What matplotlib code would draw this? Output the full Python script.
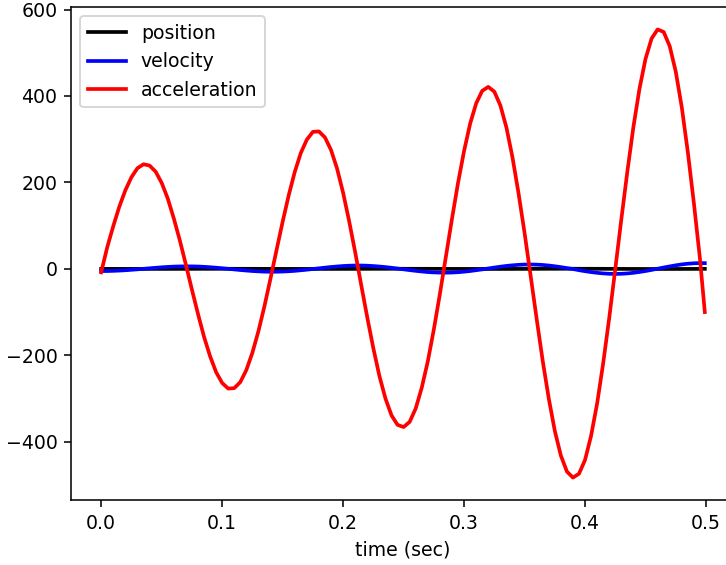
import numpy as np
import matplotlib
matplotlib.use("Agg")
import matplotlib.pyplot as plt

# sample times (sec): every 5 ms, last sample at 0.499
time = np.append(np.arange(0, 0.4951, 0.005), 0.499)

position = [0.00, -0.03, -0.05, -0.07, -0.09, -0.11, -0.12, -0.12, -0.12, -0.11,
            -0.10, -0.08, -0.06, -0.03, -0.01, 0.02, 0.05, 0.08, 0.10, 0.12,
            0.13, 0.14, 0.14, 0.13, 0.12, 0.10, 0.07, 0.04, 0.01, -0.02,
            -0.06, -0.09, -0.11, -0.14, -0.15, -0.16, -0.16, -0.15, -0.14, -0.12,
            -0.09, -0.06, -0.02, 0.02, 0.06, 0.09, 0.13, 0.15, 0.17, 0.18,
            0.19, 0.18, 0.16, 0.14, 0.11, 0.07, 0.03, -0.01, -0.06, -0.10,
            -0.14, -0.17, -0.19, -0.21, -0.21, -0.21, -0.19, -0.17, -0.13, -0.09,
            -0.04, 0.01, 0.06, 0.11, 0.15, 0.19, 0.22, 0.24, 0.25, 0.24,
            0.22, 0.20, 0.16, 0.11, 0.06, 0.00, -0.06, -0.11, -0.17, -0.21,
            -0.25, -0.27, -0.28, -0.28, -0.26, -0.23, -0.19, -0.14, -0.08, -0.01,
            0.05]

velocity = [-5.1, -5.0, -4.6, -4.0, -3.2, -2.2, -1.1, 0.1, 1.3, 2.5,
            3.6, 4.5, 5.2, 5.6, 5.8, 5.7, 5.4, 4.7, 3.8, 2.7,
            1.4, 0.1, -1.3, -2.7, -3.9, -5.0, -5.8, -6.4, -6.7, -6.6,
            -6.2, -5.5, -4.6, -3.3, -1.9, -0.3, 1.2, 2.8, 4.3, 5.5,
            6.6, 7.3, 7.7, 7.7, 7.3, 6.5, 5.4, 4.1, 2.5, 0.7,
            -1.1, -2.9, -4.6, -6.1, -7.4, -8.2, -8.7, -8.8, -8.5, -7.7,
            -6.5, -5.0, -3.1, -1.2, 0.9, 3.0, 5.0, 6.8, 8.2, 9.3,
            10.0, 10.1, 9.8, 9.0, 7.7, 6.0, 4.0, 1.7, -0.3, -3.1,
            -5.4, -7.5, -9.2, -10.5, -11.4, -11.7, -11.4, -10.5, -9.1, -7.2,
            -5.0, -2.4, 0.3, 3.1, 5.7, 8.2, 10.3, 11.9, 12.9, 13.4,
            13.2]

acceleration = [-8, 50, 99, 144, 182, 212, 233, 242, 239, 225,
                199, 163, 117, 66, 10, -48, -104, -157, -202, -239,
                -264, -277, -276, -262, -234, -194, -144, -86, -22, 44,
                109, 170, 224, 268, 299, 317, 318, 304, 275, 232,
                176, 110, 38, -38, -113, -184, -248, -300, -339, -361,
                -366, -354, -323, -275, -214, -140, -58, 29, 116, 199,
                273, 336, 383, 412, 421, 410, 378, 327, 258, 175,
                83, -16, -116, -213, -300, -375, -432, -469, -483, -474,
                -442, -386, -311, -218, -113, 0, 115, 226, 329, 417,
                486, 533, 554, 548, 515, 456, 373, 269, 151, 23,
                -100]


def main():
    plt.rcParams['font.size'] = 9.7
    fig = plt.figure(figsize=(726 / 140, 565 / 140), dpi=140)
    # axes runs a little past the right edge, like the reference crop
    ax = fig.add_axes([0.0978, 0.115, 0.9146, 0.8726])
    ax.plot(time, position, color='black', lw=1.9, label='position')
    ax.plot(time, velocity, color='blue', lw=1.9, label='velocity')
    ax.plot(time, acceleration, color='red', lw=1.9, label='acceleration')
    ax.set_xlabel('time (sec)')
    ax.legend(loc='upper left')
    fig.savefig('out.png', dpi=140)


if __name__ == '__main__':
    main()
